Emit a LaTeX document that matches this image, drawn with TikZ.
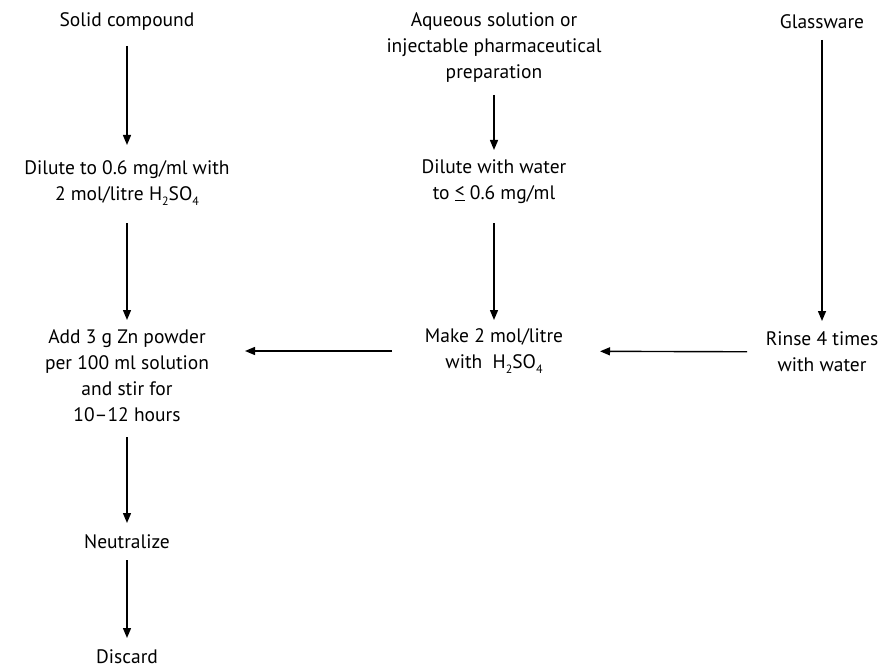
\documentclass[tikz,border=0pt]{standalone}
\usepackage{fontspec}
\setmainfont{PT Sans}
\usetikzlibrary{arrows.meta}
\newcommand\subnum[1]{\raisebox{-5pt}{\fontsize{12}{12}\selectfont #1}}
\newcommand\leqsym{\raisebox{1pt}{\underline{\raisebox{1pt}{<}}}}
\begin{document}
\begin{tikzpicture}[x=1pt,y=-1pt,
  lbl/.style={align=center,font=\fontsize{19.5}{26}\selectfont,inner sep=0pt},
  arr/.style={-{Triangle[length=10pt,width=8pt]},line width=1.4pt}]
\useasboundingbox (0,0) rectangle (883,671);
% left column
\node[lbl] (solid) at (127,22) {Solid compound};
\node[lbl] (dil1) at (127,183) {Dilute to 0.6 mg/ml with\\2 mol/litre H\subnum{2}SO\subnum{4}};
\node[lbl] (add) at (127,376) {Add 3 g Zn powder\\per 100 ml solution\\and stir for\\10--12 hours};
\node[lbl] (neut) at (127,542) {Neutralize};
\node[lbl] (disc) at (127,657) {Discard};
% middle column
\node[lbl] (aq) at (494,48) {Aqueous solution or\\injectable pharmaceutical\\preparation};
\node[lbl] (dil2) at (494,182) {Dilute with water\\to \leqsym{} 0.6 mg/ml};
\node[lbl] (make) at (494,351) {Make 2 mol/litre\\with\ \ H\subnum{2}SO\subnum{4}};
% right column
\node[lbl] (glass) at (822,22) {Glassware};
\node[lbl] (rinse) at (822,352) {Rinse 4 times\\with water};
% connectors
\draw[arr,shorten <=24pt,shorten >=38pt] (solid.center) -- (dil1.center);
\draw[arr,shorten <=40pt,shorten >=56pt] (dil1.center) -- (add.center);
\draw[arr,shorten <=61pt,shorten >=19pt] (add.center) -- (neut.center);
\draw[arr,shorten <=18pt,shorten >=19pt] (neut.center) -- (disc.center);
\draw[arr,shorten <=47pt,shorten >=32pt] (aq.center) -- (dil2.center);
\draw[arr,shorten <=41pt,shorten >=31pt] (dil2.center) -- (make.center);
\draw[arr,shorten <=18pt,shorten >=31pt] (glass.center) -- (rinse.center);
\draw[arr,shorten <=102pt,shorten >=118pt] (make.center) -- (make.center -| add.center);
\draw[arr,shorten <=75pt,shorten >=106pt] (rinse.center) -- (make.center);
\end{tikzpicture}
\end{document}
